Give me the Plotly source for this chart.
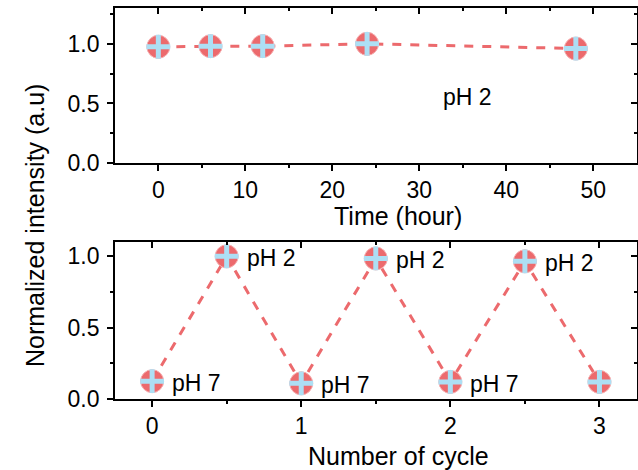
import plotly.graph_objects as go

time_h = [0, 6, 12, 24, 48]
time_int = [0.975, 0.98, 0.98, 1.0, 0.96]

cycle = [0, 0.5, 1, 1.5, 2, 2.5, 3]
cycle_int = [0.125, 1.0, 0.11, 0.985, 0.12, 0.965, 0.12]
cycle_lbl = ["pH 7", "pH 2", "pH 7", "pH 2", "pH 7", "pH 2", ""]

RED = "#EC6A6D"
BLUE = "#ADDFF4"
FONT = "Arial, Liberation Sans, sans-serif"
TICK = 23
TITLE = 25

fig = go.Figure()

def add_series(x, y, xa, ya):
    fig.add_trace(go.Scatter(x=x, y=y, mode="lines", xaxis=xa, yaxis=ya,
                             line=dict(color=RED, width=3, dash="dash"),
                             showlegend=False, hoverinfo="skip"))
    fig.add_trace(go.Scatter(x=x, y=y, mode="markers", xaxis=xa, yaxis=ya,
                             marker=dict(symbol="circle", size=23, color=RED,
                                         line=dict(color="#F6AFB1", width=1)),
                             showlegend=False))
    fig.add_trace(go.Scatter(x=x, y=y, mode="markers", xaxis=xa, yaxis=ya,
                             marker=dict(symbol="cross-thin", size=17,
                                         line=dict(color=BLUE, width=5)),
                             showlegend=False))

add_series(time_h, time_int, "x", "y")
add_series(cycle, cycle_int, "x2", "y2")

axis_common = dict(showline=True, linecolor="black", linewidth=1.5, mirror=True,
                   ticks="outside", ticklen=6, tickwidth=1.5, tickcolor="black",
                   showgrid=False, zeroline=False, automargin=False,
                   tickfont=dict(family=FONT, size=TICK, color="black"))

def minor(vals, d="outside"):
    return dict(ticks=d, ticklen=3, tickwidth=1.5, tickcolor="black", tickvals=vals)

XD = [0.180, 0.998]
Y1 = [0.653, 0.983]
Y2 = [0.151, 0.485]

fig.update_layout(
    width=638, height=470, autosize=False,
    margin=dict(l=0, r=0, t=0, b=0, pad=0, autoexpand=False),
    paper_bgcolor="white", plot_bgcolor="white",
    xaxis=dict(domain=XD, anchor="y", range=[-5, 55], tickvals=[0, 10, 20, 30, 40, 50],
               minor=minor([5, 15, 25, 35, 45]), **axis_common),
    yaxis=dict(domain=Y1, anchor="x", range=[0, 1.3], tickvals=[0, 0.5, 1.0],
               ticktext=["0.0", "0.5", "1.0"], minor=minor([0.25, 0.75, 1.25]),
               ticklabelstandoff=3, **axis_common),
    xaxis2=dict(domain=XD, anchor="y2", range=[-0.25, 3.25], tickvals=[0, 1, 2, 3],
                minor=minor([0.5, 1.5, 2.5]), **axis_common),
    yaxis2=dict(domain=Y2, anchor="x2", range=[0, 1.1], tickvals=[0, 0.5, 1.0],
                ticktext=["0.0", "0.5", "1.0"], minor=minor([0.25, 0.75]),
                ticklabelstandoff=3, **axis_common),
)

# inward ticks on top / right edges
inner = dict(showline=False, showgrid=False, zeroline=False, showticklabels=False,
             ticks="inside", ticklen=6, tickwidth=1.5, tickcolor="black", automargin=False)
fig.update_layout(
    xaxis3=dict(overlaying="x", anchor="y", side="top", range=[-5, 55],
                tickvals=[0, 10, 20, 30, 40, 50], minor=minor([5, 15, 25, 35, 45], "inside"), **inner),
    yaxis3=dict(overlaying="y", anchor="x", side="right", range=[0, 1.3],
                tickvals=[0, 0.5, 1.0], minor=minor([0.25, 0.75, 1.25], "inside"), **inner),
    xaxis4=dict(overlaying="x2", anchor="y2", side="top", range=[-0.25, 3.25],
                tickvals=[0, 1, 2, 3], minor=minor([0.5, 1.5, 2.5], "inside"), **inner),
    yaxis4=dict(overlaying="y2", anchor="x2", side="right", range=[0, 1.1],
                tickvals=[0, 0.5, 1.0], minor=minor([0.25, 0.75], "inside"), **inner),
)
fig.add_trace(go.Scatter(x=[None], y=[None], xaxis="x3", yaxis="y3", showlegend=False))
fig.add_trace(go.Scatter(x=[None], y=[None], xaxis="x4", yaxis="y4", showlegend=False))

fig.add_annotation(x=35.5, y=0.55, xref="x", yref="y", text="pH 2", showarrow=False,
                   font=dict(family=FONT, size=TICK, color="black"))

for xv, yv, t in zip(cycle, cycle_int, cycle_lbl):
    if t:
        fig.add_annotation(x=xv, y=yv, xref="x2", yref="y2", text=t, showarrow=False,
                           xanchor="left", xshift=18, yshift=-2,
                           font=dict(family=FONT, size=TICK, color="black"))

# axis titles
fig.add_annotation(x=398 / 638, y=1 - 216 / 470, xref="paper", yref="paper", text="Time (hour)",
                   xanchor="center", yanchor="middle", showarrow=False,
                   font=dict(family=FONT, size=TITLE, color="black"))
fig.add_annotation(x=398 / 638, y=1 - 456 / 470, xref="paper", yref="paper", text="Number of cycle",
                   xanchor="center", yanchor="middle", showarrow=False,
                   font=dict(family=FONT, size=TITLE, color="black"))
fig.add_annotation(x=35 / 638, y=1 - 226 / 470, xref="paper", yref="paper",
                   text="Normalized intensity (a.u)", textangle=-90, showarrow=False,
                   xanchor="center", yanchor="middle",
                   font=dict(family=FONT, size=25, color="black"))

fig.write_html("out.html")
